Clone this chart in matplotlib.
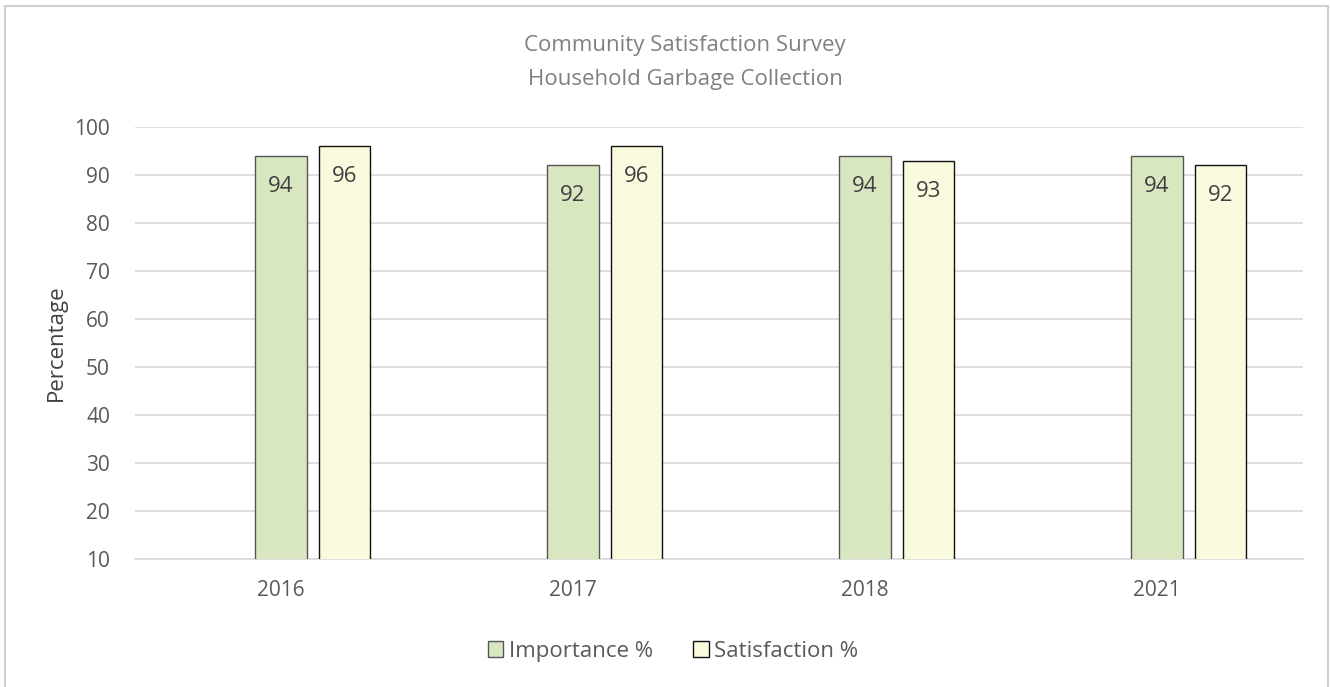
import matplotlib
matplotlib.use("Agg")
import matplotlib.pyplot as plt
from matplotlib.patches import Rectangle
import numpy as np

years = ["2016", "2017", "2018", "2021"]
importance = [94, 92, 94, 94]
satisfaction = [96, 96, 93, 92]

plt.rcParams["font.family"] = ["Open Sans", "DejaVu Sans"]

fig = plt.figure(figsize=(13.3, 6.87), dpi=100)
fig.patches.append(Rectangle((5 / 1330, -0.01), 1323 / 1330, 1 - 6 / 687 + 0.01,
                             transform=fig.transFigure, fill=False,
                             edgecolor="#d0d0d0", linewidth=1.5))

ax = fig.add_axes([0.1015, 0.1863, 0.8782, 0.6288])
x = np.arange(len(years))
w = 0.175
off = 0.219

b1 = ax.bar(x, importance, w, bottom=0, color="#d8e7c0", edgecolor="#555555",
            linewidth=1.0, label="Importance %", zorder=3)
b2 = ax.bar(x + off, satisfaction, w, bottom=0, color="#fafade", edgecolor="#111111",
            linewidth=1.0, label="Satisfaction %", zorder=3)

for bars, vals in ((b1, importance), (b2, satisfaction)):
    for rect, v in zip(bars, vals):
        ax.annotate(str(v), (rect.get_x() + rect.get_width() / 2, v),
                    xytext=(0, -22), textcoords="offset points",
                    ha="center", va="center", fontsize=16, color="#404040", zorder=4)

ax.set_xlim(-0.5, 3.5)
ax.set_ylim(10, 100)
ax.set_yticks(range(10, 101, 10))
ax.set_xticks(x)
ax.set_xticklabels(years)
ax.grid(axis="y", color="#d9d9d9", linewidth=1.2, zorder=0)
for s in ("top", "right", "left"):
    ax.spines[s].set_visible(False)
ax.spines["bottom"].set_color("#d9d9d9")
ax.spines["bottom"].set_linewidth(1.2)
ax.tick_params(axis="both", length=0, labelsize=15, colors="#595959")
ax.tick_params(axis="y", pad=18)
ax.tick_params(axis="x", pad=15)
ax.set_ylabel("Percentage", fontsize=16, color="#404040", labelpad=5)

fig.text(0.515, 0.909, "Community Satisfaction Survey\nHousehold Garbage Collection",
         ha="center", va="center", fontsize=16, color="#808080", linespacing=1.8)

fig.legend(handles=[b1, b2], loc="center", bbox_to_anchor=(0.506, 0.052), ncol=2,
           frameon=False, fontsize=16, labelcolor="#595959", handlelength=0.7,
           handleheight=0.7, handletextpad=0.25, columnspacing=1.8)

fig.savefig("out.png", dpi=100)
